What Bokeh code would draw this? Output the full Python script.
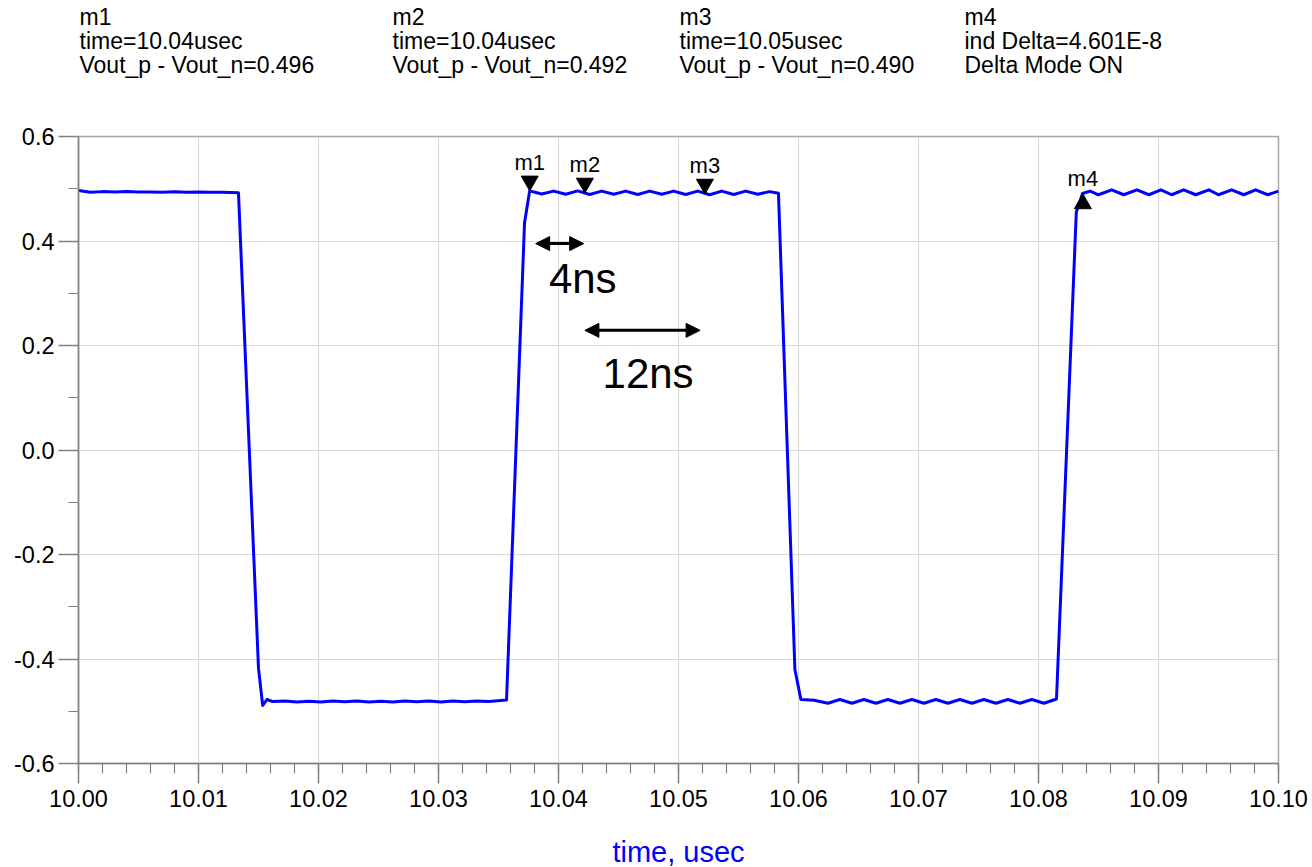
from bokeh.plotting import figure
from bokeh.layouts import column
from bokeh.models import (Range1d, FixedTicker, NumeralTickFormatter,
                          Arrow, NormalHead, ColumnDataSource)
from bokeh.core.properties import value
from bokeh.embed import file_html
from bokeh.resources import INLINE

# ---------------- data ----------------
time_us = [
    10.0000, 10.0010, 10.0020, 10.0030, 10.0040, 10.0050, 10.0060, 10.0070,
    10.0080, 10.0090, 10.0100, 10.0110, 10.0120, 10.01333,
    10.0150, 10.01535,
    10.0157, 10.0162, 10.0172, 10.0182, 10.0192, 10.0202, 10.0212, 10.0222,
    10.0232, 10.0242, 10.0252, 10.0262, 10.0272, 10.0282, 10.0292, 10.0302,
    10.0312, 10.0322, 10.0332, 10.0342, 10.03567,
    10.03717, 10.0376,
    10.0386, 10.0396, 10.0406, 10.0416, 10.0426, 10.0436, 10.0446, 10.0456,
    10.0466, 10.0476, 10.0486, 10.0496, 10.0506, 10.0516, 10.0526, 10.0536,
    10.0546, 10.0556, 10.0566, 10.0576, 10.05833,
    10.0597, 10.0602,
    10.0613, 10.06245, 10.06345, 10.06445, 10.06545, 10.06645, 10.06745,
    10.06845, 10.06945, 10.07045, 10.07145, 10.07245, 10.07345, 10.07445,
    10.07545, 10.07645, 10.07745, 10.07845, 10.07945, 10.08045, 10.08150,
    10.08315, 10.08367,
    10.0843, 10.0850, 10.0861, 10.0871, 10.0882, 10.0892, 10.0902, 10.0911,
    10.0921, 10.0931, 10.0942, 10.0950, 10.0961, 10.0971, 10.0981, 10.0991,
    10.1000,
]
vout_diff = [
    0.4965, 0.4935, 0.4945, 0.4940, 0.4945, 0.4938, 0.4940, 0.4935,
    0.4942, 0.4935, 0.4938, 0.4932, 0.4935, 0.4925,
    -0.418, -0.489,
    -0.4775, -0.4815, -0.4805, -0.4825, -0.4810, -0.4822, -0.4805, -0.4820,
    -0.4805, -0.4822, -0.4808, -0.4822, -0.4805, -0.4820, -0.4805, -0.4822,
    -0.4805, -0.4818, -0.4803, -0.4815, -0.4785,
    0.435, 0.4960,
    0.4900, 0.4955, 0.4895, 0.4960, 0.4890, 0.4955, 0.4895, 0.4955,
    0.4890, 0.4955, 0.4895, 0.4955, 0.4890, 0.4955, 0.4885, 0.4955,
    0.4890, 0.4955, 0.4895, 0.4945, 0.4915,
    -0.420, -0.4775,
    -0.4790, -0.4846, -0.4775, -0.4846, -0.4775, -0.4846, -0.4775,
    -0.4846, -0.4775, -0.4846, -0.4775, -0.4846, -0.4775, -0.4846,
    -0.4775, -0.4846, -0.4775, -0.4846, -0.4775, -0.4846, -0.4765,
    0.455, 0.491,
    0.4955, 0.4885, 0.4980, 0.4885, 0.4980, 0.4885, 0.4980, 0.4885,
    0.4980, 0.4885, 0.4980, 0.4885, 0.4980, 0.4885, 0.4980, 0.4885,
    0.4955,
]

x_tick_values = [10.00, 10.01, 10.02, 10.03, 10.04, 10.05, 10.06, 10.07, 10.08, 10.09, 10.10]
y_tick_values = [-0.6, -0.4, -0.2, 0.0, 0.2, 0.4, 0.6]

marker_names = ["m1", "m2", "m3", "m4"]
marker_time = [10.0376, 10.0422, 10.0522, 10.0837]
marker_value = [0.496, 0.492, 0.490, 0.490]
marker_dir = ["down", "down", "down", "up"]

header_m1 = ["m1", "time=10.04usec", "Vout_p - Vout_n=0.496"]
header_m2 = ["m2", "time=10.04usec", "Vout_p - Vout_n=0.492"]
header_m3 = ["m3", "time=10.05usec", "Vout_p - Vout_n=0.490"]
header_m4 = ["m4", "ind Delta=4.601E-8", "Delta Mode ON"]

span_start = [10.0381, 10.0422]
span_end = [10.0421, 10.0518]
span_level = [0.395, 0.229]
span_text = ["4ns", "12ns"]
span_text_x = [10.0392, 10.04367]
span_text_y = [0.2995, 0.1177]

x_label = "time, usec"

# ---------------- layout (page pixels) ----------------
W = 1312
HEAD_H = 120          # header strip
MAIN_H = 700          # plot strip
FOOT_H = 867 - HEAD_H - MAIN_H
ML, MR, MT = 78, 34, 16
FRAME_H = 627
MB = MAIN_H - MT - FRAME_H
FONT = "Liberation Sans"
BASE_SHIFT = 0.35     # baseline correction as a fraction of the font size


def blank(h):
    # strip whose frame is aligned with the main frame; data units = page pixels
    f = figure(width=W, height=h, output_backend="svg", toolbar_location=None,
               title=None, x_range=Range1d(ML, W - MR), y_range=Range1d(h, 0),
               min_border=0, x_axis_location=None, y_axis_location=None)
    f.outline_line_color = None
    f.grid.visible = False
    f.background_fill_color = "white"
    f.border_fill_color = "white"
    return f


# header with marker readouts
head = blank(HEAD_H)
col_x = [79, 392, 679, 964]
line_y = [24, 48, 72]
hsize = 23
hx, hy, ht = [], [], []
for cx, lines in zip(col_x, [header_m1, header_m2, header_m3, header_m4]):
    for ly, s in zip(line_y, lines):
        hx.append(cx)
        hy.append(ly)
        ht.append(s)
head.text(hx, hy, text=ht, text_font=value(FONT), text_font_size=f"{hsize}px",
          text_color="black", text_align="left", text_baseline="alphabetic",
          y_offset=-round(BASE_SHIFT * hsize))

# main plot
x0, x1 = 10.0, 10.1
y0, y1 = -0.6, 0.6
p = figure(width=W, height=MAIN_H, output_backend="svg", toolbar_location=None,
           title=None, x_range=Range1d(x0, x1), y_range=Range1d(y0, y1),
           min_border_left=ML, min_border_right=MR, min_border_top=MT,
           min_border_bottom=MB)
p.background_fill_color = "white"
p.border_fill_color = "white"
p.outline_line_color = "#a6a6a6"
p.outline_line_width = 1.5

x_minor = [round(x0 + 0.002 * k, 4) for k in range(51)]
y_minor = [-0.5, -0.3, -0.1, 0.1, 0.3, 0.5]
p.xaxis.ticker = FixedTicker(ticks=x_tick_values, minor_ticks=x_minor)
p.yaxis.ticker = FixedTicker(ticks=y_tick_values, minor_ticks=y_minor)
p.xaxis.formatter = NumeralTickFormatter(format="0.00")
p.yaxis.formatter = NumeralTickFormatter(format="0.0")

for ax in (p.xaxis, p.yaxis):
    ax.axis_line_color = "#808080"
    ax.axis_line_width = 1.5
    ax.major_tick_line_color = "#808080"
    ax.minor_tick_line_color = "#808080"
    ax.major_tick_line_width = 1.5
    ax.minor_tick_line_width = 1.2
    ax.major_tick_out = 20
    ax.major_tick_in = 0
    ax.minor_tick_out = 10
    ax.minor_tick_in = 0
    ax.major_label_text_font = FONT
    ax.major_label_text_font_size = "23.5px"
    ax.major_label_text_color = "black"
p.xaxis.major_label_standoff = 6
p.yaxis.major_label_standoff = 4

p.xgrid.grid_line_color = "#dadada"
p.ygrid.grid_line_color = "#dadada"
p.xgrid.grid_line_width = 1.2
p.ygrid.grid_line_width = 1.2

src = ColumnDataSource(dict(t=time_us, v=vout_diff))
p.line("t", "v", source=src, line_color="#0000ff", line_width=3, line_join="round")

# markers: apex of the triangle sits on the data point
msize = 17
apex = (msize / 2) * 3 ** 0.5 * 2 / 3
py_per_unit = FRAME_H / (y1 - y0)
dn = [i for i, d in enumerate(marker_dir) if d == "down"]
up = [i for i, d in enumerate(marker_dir) if d == "up"]
p.scatter([marker_time[i] for i in dn],
          [marker_value[i] + apex / py_per_unit for i in dn],
          marker="inverted_triangle", size=msize, fill_color="black", line_color="black")
p.scatter([marker_time[i] for i in up],
          [marker_value[i] - apex / py_per_unit for i in up],
          marker="triangle", size=msize, fill_color="black", line_color="black")
msz = 22
p.text([marker_time[i] for i in dn], [marker_value[i] for i in dn],
       text=[marker_names[i] for i in dn], text_font=value(FONT),
       text_font_size=f"{msz}px", text_align="center", text_baseline="alphabetic",
       y_offset=-20 - round(BASE_SHIFT * msz), text_color="black")
p.text([marker_time[i] for i in up], [marker_value[i] for i in up],
       text=[marker_names[i] for i in up], text_font=value(FONT),
       text_font_size=f"{msz}px", text_align="center", text_baseline="alphabetic",
       y_offset=-7 - round(BASE_SHIFT * msz), text_color="black")

# interval arrows
for xs, xe, yl in zip(span_start, span_end, span_level):
    p.add_layout(Arrow(x_start=xs, y_start=yl, x_end=xe, y_end=yl,
                       line_color="black", line_width=3,
                       start=NormalHead(size=14, fill_color="black", line_color="black"),
                       end=NormalHead(size=14, fill_color="black", line_color="black")))
ssz = 42
p.text(span_text_x, span_text_y, text=span_text, text_font=value(FONT),
       text_font_size=f"{ssz}px", text_align="left", text_baseline="alphabetic",
       y_offset=-round(BASE_SHIFT * ssz), text_color="black")

# footer with the x-axis title
foot = blank(FOOT_H)
fsz = 29
foot.text([678], [861 - HEAD_H - MAIN_H], text=[x_label], text_font=value(FONT),
          text_font_size=f"{fsz}px", text_color="#0000ff", text_align="center",
          text_baseline="alphabetic", y_offset=-round(BASE_SHIFT * fsz))

layout = column(head, p, foot, spacing=0)
open("out.html", "w").write(file_html(layout, INLINE))
